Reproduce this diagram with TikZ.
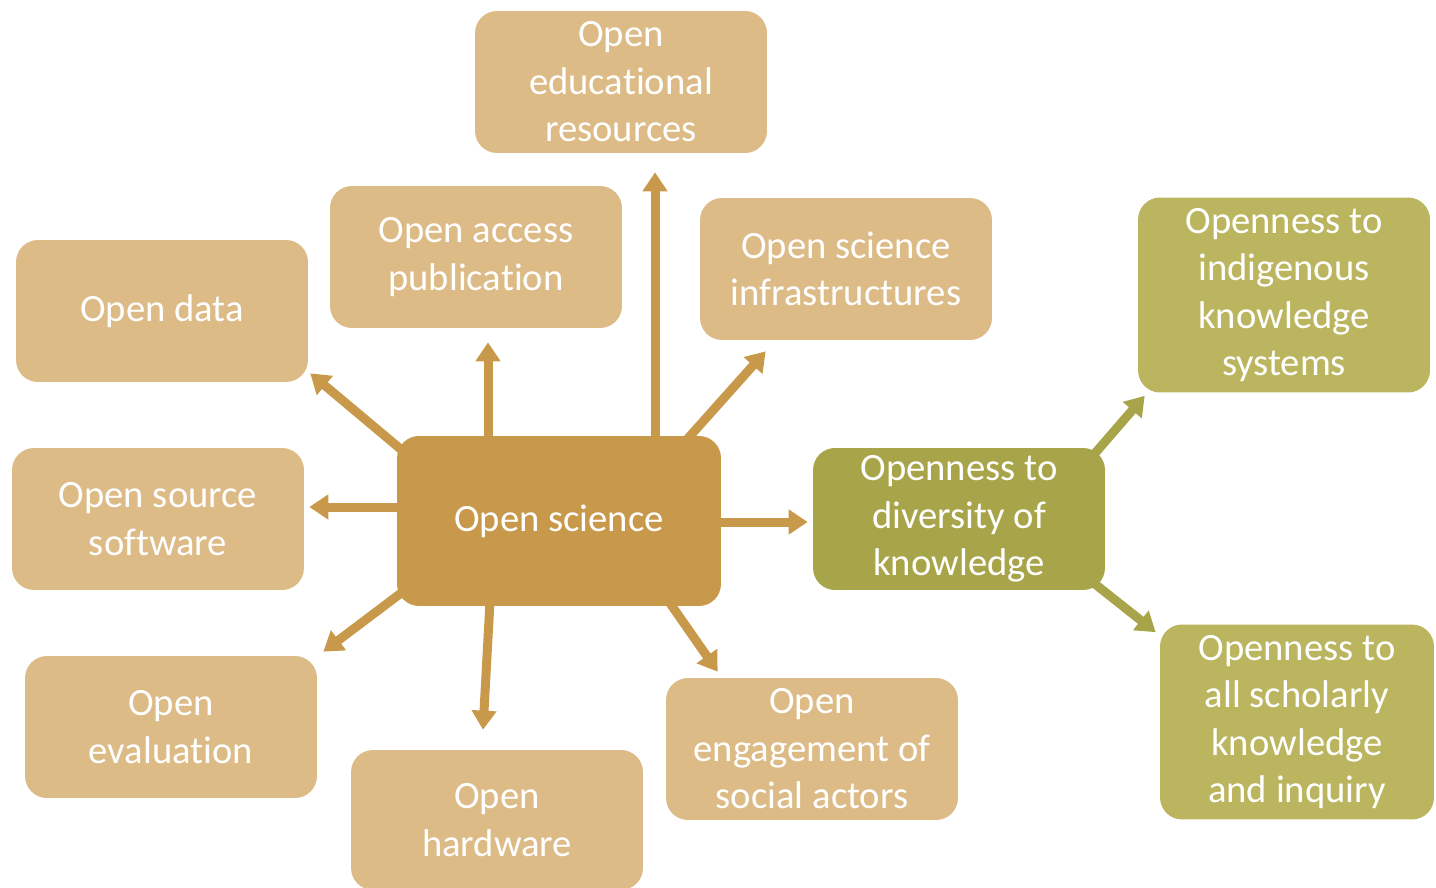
\documentclass[tikz,border=0pt]{standalone}
\usepackage{fontspec}
\setmainfont{Carlito}[Ligatures=NoCommon]
\usepackage{tikz}
\usetikzlibrary{arrows.meta,calc,backgrounds}

\definecolor{lighttan}{RGB}{220,187,135}
\definecolor{darktan}{RGB}{200,153,74}
\definecolor{darkolive}{RGB}{168,164,74}
\definecolor{lightolive}{RGB}{186,181,94}

\begin{document}
\begin{tikzpicture}[x=0.02cm,y=-0.02cm,
		box/.style={fill=lighttan,rounded corners=0.44cm,text=white,align=center,inner sep=0pt,
			minimum width=5.84cm,minimum height=2.84cm,font=\fontsize{22}{27}\selectfont},
		mainbox/.style={box,fill=darktan,minimum width=6.48cm,minimum height=3.4cm},
		greenbox/.style={box,fill=lightolive,minimum height=3.9cm},
		arr/.style={draw=darktan,line width=0.18cm,-{Triangle[width=0.48cm,length=0.38cm]}},
		greenarr/.style={arr,draw=darkolive}]
		\useasboundingbox (0,0) rectangle (1436,888);
		
		\node[mainbox] (os) at (559,521) {Open science};
		\node[box] (oer) at (621,82) {Open\\educational\\resources};
		\node[box] (oa) at (476,257) {Open access\\publication};
		\node[box] (infra) at (846,269) {Open science\\infrastructures};
		\node[box] (data) at (162,311) {Open data};
		\node[box] (oss) at (158,519) {Open source\\software};
		\node[box] (eval) at (171,727) {Open\\evaluation};
		\node[box,minimum height=2.8cm] (hw) at (497,820) {Open\\hardware};
		\node[box] (eng) at (812,749) {Open\\engagement of\\social actors};
		\node[box,fill=darkolive] (div) at (959,519) {Openness to\\diversity of\\knowledge};
		\node[greenbox] (ind) at (1284,295) {Openness to\\indigenous\\knowledge\\systems};
		\node[greenbox,minimum width=5.48cm] (sch) at (1297,722) {Openness to\\all scholarly\\knowledge\\and inquiry};
		
		\begin{scope}[on background layer]
			\draw[arr] ($(os.north)+(96,4)$) -- ($(oer.south)+(34,19)$);
			\draw[arr] ($(os.north)+(-71,4)$) -- ($(oa.south)+(12,14)$);
			\draw[arr] ($(os.north)+(126,6)$) -- ($(infra.south west)+(66,11)$);
			\draw[arr] ($(os.north west)+(7,16)$) -- ($(data.south east)+(2,-9)$);
			\draw[arr] ($(os.west)+(4,-14)$) -- ($(oss.east)+(5,-12)$);
			\draw[arr] ($(os.south west)+(8,-16)$) -- ($(eval.north east)+(6,-4)$);
			\draw[arr] ($(os.south)+(-69,-5)$) -- ($(hw.north)+(-14,-20)$);
			\draw[arr] ($(os.south)+(109,-6)$) -- ($(eng.north west)+(52,-6)$);
			\draw[arr] ($(os.east)+(-5,1)$) -- ($(div.west)+(-5,3)$);
			\draw[greenarr] ($(div.north east)+(-15,11)$) -- ($(ind.south west)+(7,3)$);
			\draw[greenarr] ($(div.south east)+(-15,-10)$) -- ($(sch.north west)+(-4,8)$);
		\end{scope}
	\end{tikzpicture}
\end{document}
